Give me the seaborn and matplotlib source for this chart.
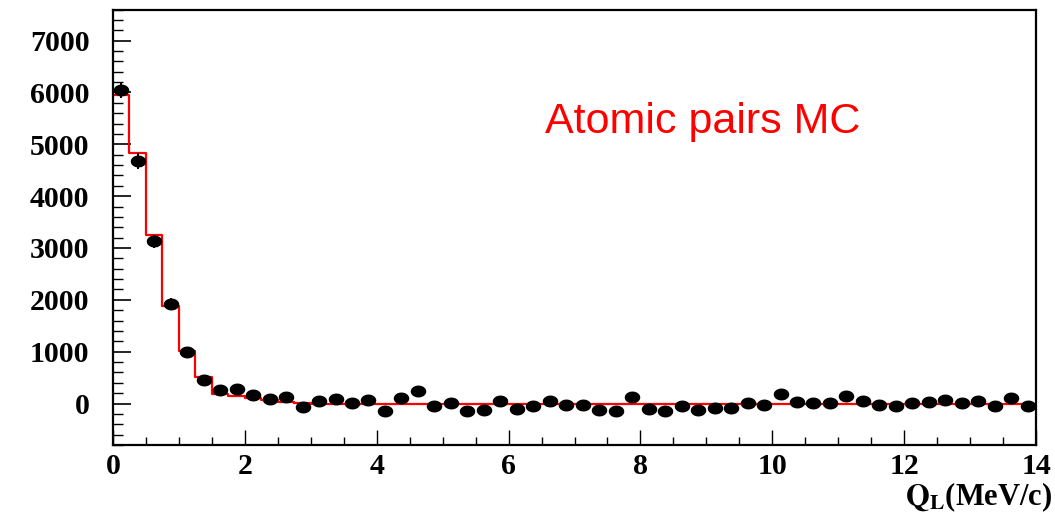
import numpy as np
import pandas as pd
import matplotlib
matplotlib.use("Agg")
import matplotlib.pyplot as plt
from matplotlib.ticker import MultipleLocator
import seaborn as sns

# ---- data ----
bin_width = 0.25
bin_edges = [i * 0.25 for i in range(57)]  # 0 .. 14 MeV/c
bin_centers = [0.125 + i * 0.25 for i in range(56)]

# data points (counts per bin)
data_counts = [6050, 4680, 3127, 1920, 990, 456, 263, 283, 167, 90,
               121, -58, 51, 90, 6, 71, -135, 103, 237, -45,
               19, -135, -116, 58, -109, -51, 45, -26, -26, -128,
               -148, 135, -103, -141, -45, -116, -77, -90, 19, -19,
               180, 39, 19, 6, 141, 51, -26, -39, 13, 26,
               64, 13, 51, -51, 109, -39]
data_errors = [150, 150, 130, 110, 90, 80, 75, 75, 75, 75,
               75, 75, 75, 75, 75, 75, 75, 75, 75, 75,
               75, 75, 75, 75, 75, 75, 75, 75, 75, 75,
               75, 75, 75, 75, 75, 75, 75, 75, 75, 75,
               75, 75, 75, 75, 75, 75, 75, 75, 75, 75,
               75, 75, 75, 75, 75, 75]

# MC histogram (red)
mc_counts = [5950, 4830, 3256, 1888, 1008, 507, 190, 150, 115, 60,
             25, 15] + [0] * 44

x_ticks = [0, 2, 4, 6, 8, 10, 12, 14]
y_ticks = [0, 1000, 2000, 3000, 4000, 5000, 6000, 7000]

df_pts = pd.DataFrame({"Q": bin_centers, "N": data_counts, "err": data_errors})
df_mc = pd.DataFrame({"Q": bin_centers, "w": mc_counts})

# ---- figure ----
sns.set_theme(style="white")
plt.rcParams["font.family"] = ["Liberation Serif", "DejaVu Serif"]
plt.rcParams["text.color"] = "black"

fig = plt.figure(figsize=(10.55, 5.14), dpi=100)
ax = fig.add_axes([113 / 1055, 1 - 445 / 514, (1036 - 113) / 1055, (445 - 9.5) / 514])

sns.histplot(data=df_mc, x="Q", weights="w", bins=bin_edges, element="step",
             fill=False, color="red", linewidth=1.6, ax=ax)

ax.errorbar(df_pts["Q"], df_pts["N"], yerr=df_pts["err"], fmt="none",
            ecolor="black", elinewidth=1.4, capsize=0, zorder=3)

t = np.linspace(0, 2 * np.pi, 40)
ell = list(zip(1.3 * np.cos(t), np.sin(t)))
sns.scatterplot(data=df_pts, x="Q", y="N", marker=ell, s=125, color="black",
                edgecolor="black", linewidth=0, ax=ax, zorder=4)

ax.set_xlim(0, 14)
ax.set_ylim(-800, 7600)
ax.set_xticks(x_ticks)
ax.set_yticks(y_ticks)
ax.xaxis.set_minor_locator(MultipleLocator(0.5))
ax.yaxis.set_minor_locator(MultipleLocator(200))
ax.set_xticklabels([str(v) for v in x_ticks], fontsize=21.5, fontweight="bold")
ax.set_yticklabels([str(v) for v in y_ticks], fontsize=21.5, fontweight="bold")
ax.tick_params(axis="both", which="both", direction="in", colors="black",
               labelcolor="black", top=False, right=False, left=True, bottom=True)
ax.tick_params(axis="y", which="major", length=13, width=1.2, pad=17)
ax.tick_params(axis="y", which="minor", length=7, width=1.0)
ax.tick_params(axis="x", which="major", length=11, width=1.0, pad=6)
ax.tick_params(axis="x", which="minor", length=6, width=1.0)

for sp in ax.spines.values():
    sp.set_visible(True)
    sp.set_color("black")
    sp.set_linewidth(1.6)

ax.set_xlabel("")
ax.set_ylabel("")
fig.text(1052 / 1055, 1 - 497 / 514, r"$\mathbf{Q_L}$(MeV/c)", ha="right", va="center",
         fontsize=22, fontweight="bold", family="Liberation Serif",
         math_fontfamily="stix", color="black")

ax.text(545 / 1055, 1 - 133 / 514, "Atomic pairs MC", transform=fig.transFigure,
        color="red", fontsize=31, family="Liberation Sans", ha="left", va="baseline")

fig.savefig("out.png", dpi=100)
